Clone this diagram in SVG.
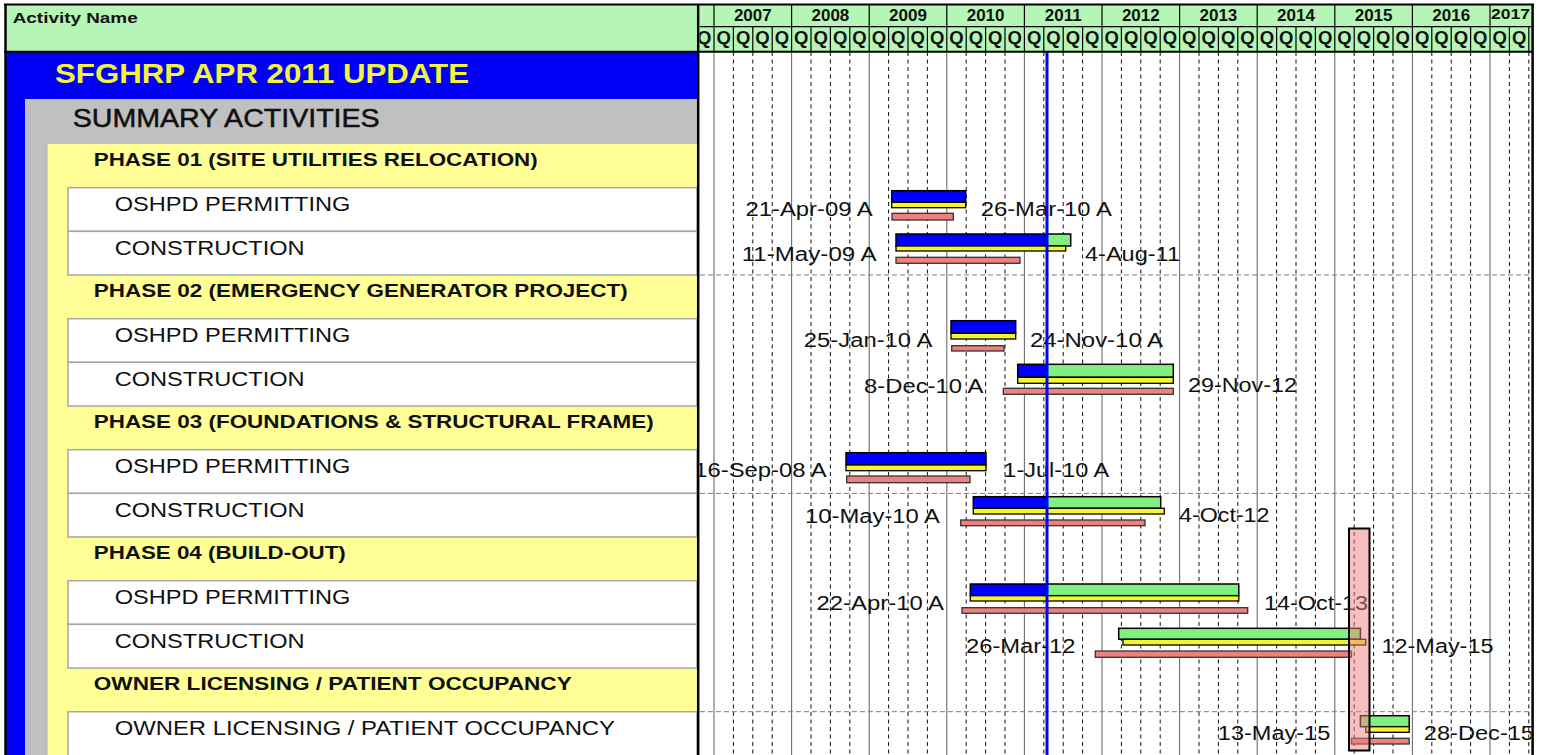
<svg xmlns="http://www.w3.org/2000/svg" width="1545" height="755" viewBox="0 0 1545 755">
<style>
text{font-family:"Liberation Sans",Arial,sans-serif;fill:#111}
.b{font-weight:bold}
.ph{font-size:18.5px;font-weight:bold}
.wt{font-size:19.5px}
.lbl{font-size:19.5px}
.yr{font-size:17px;font-weight:bold;text-anchor:middle}
.q{font-size:18.5px;font-weight:bold;text-anchor:middle}
.wrow{fill:#fff;stroke:#a6a6a6;stroke-width:1.5}
.act{fill:#0000ff;stroke:#000;stroke-width:1.5}
.rem{fill:#80f080;stroke:#000;stroke-width:1.5}
.bl1{fill:#f6f630;stroke:#000;stroke-width:1.3}
.bl2{fill:#f08080;stroke:#333;stroke-width:1.3}
.ygrid{fill:none;stroke:#6e6e6e;stroke-width:1.1}
.qgrid{fill:none;stroke:#111;stroke-width:1;stroke-dasharray:4 3.5}
.hgrid{fill:none;stroke:#7a7a7a;stroke-width:1;stroke-dasharray:5 3}
.bd{fill:none;stroke:#000}
</style>
<defs>
<clipPath id="chartClip"><rect x="699.5" y="52" width="832" height="703"/></clipPath>
<clipPath id="hdrClip"><rect x="699.5" y="4" width="832" height="48"/></clipPath>
</defs>
<rect x="0" y="0" width="1545" height="755" fill="#fff"/>

<!-- LEFT PANEL -->
<g id="left-panel">
<rect x="5" y="52" width="692" height="703" fill="#0000f8"/>
<rect x="25" y="99" width="672" height="656" fill="#c0c0c0"/>
<rect x="47.7" y="144" width="649.3" height="611" fill="#ffff96"/>
</g>
<g id="hdr-left">
<rect x="5" y="4.5" width="692" height="47" fill="#b5f5b5"/>
<text class="b" x="12.7" y="23.3" font-size="15" textLength="125" lengthAdjust="spacingAndGlyphs">Activity Name</text>
</g>
<g id="title">
<text class="b" x="55" y="83.3" font-size="28" style="fill:#f4f43c" textLength="414" lengthAdjust="spacingAndGlyphs">SFGHRP APR 2011 UPDATE</text>
</g>
<g id="summary">
<text x="72.7" y="126.7" font-size="25.5" stroke="#111" stroke-width="0.5" textLength="307" lengthAdjust="spacingAndGlyphs">SUMMARY ACTIVITIES</text>
</g>
<g id="phase01">
<text class="ph" x="93.75" y="165.5" textLength="444" lengthAdjust="spacingAndGlyphs">PHASE 01 (SITE UTILITIES RELOCATION)</text>
</g>
<g id="p01-oshpd">
<rect class="wrow" x="68" y="187.67" width="629" height="43.67"/>
<text class="wt" x="114.7" y="211.2" textLength="235.7" lengthAdjust="spacingAndGlyphs">OSHPD PERMITTING</text>
</g>
<g id="p01-cons">
<rect class="wrow" x="68" y="231.34" width="629" height="43.67"/>
<text class="wt" x="114.7" y="254.8" textLength="189.9" lengthAdjust="spacingAndGlyphs">CONSTRUCTION</text>
</g>
<g id="phase02">
<text class="ph" x="93.75" y="296.5" textLength="534" lengthAdjust="spacingAndGlyphs">PHASE 02 (EMERGENCY GENERATOR PROJECT)</text>
</g>
<g id="p02-oshpd">
<rect class="wrow" x="68" y="318.68" width="629" height="43.67"/>
<text class="wt" x="114.7" y="342.2" textLength="235.7" lengthAdjust="spacingAndGlyphs">OSHPD PERMITTING</text>
</g>
<g id="p02-cons">
<rect class="wrow" x="68" y="362.35" width="629" height="43.67"/>
<text class="wt" x="114.7" y="385.9" textLength="189.9" lengthAdjust="spacingAndGlyphs">CONSTRUCTION</text>
</g>
<g id="phase03">
<text class="ph" x="93.75" y="427.5" textLength="560" lengthAdjust="spacingAndGlyphs">PHASE 03 (FOUNDATIONS &amp; STRUCTURAL FRAME)</text>
</g>
<g id="p03-oshpd">
<rect class="wrow" x="68" y="449.69" width="629" height="43.67"/>
<text class="wt" x="114.7" y="473.2" textLength="235.7" lengthAdjust="spacingAndGlyphs">OSHPD PERMITTING</text>
</g>
<g id="p03-cons">
<rect class="wrow" x="68" y="493.36" width="629" height="43.67"/>
<text class="wt" x="114.7" y="516.9" textLength="189.9" lengthAdjust="spacingAndGlyphs">CONSTRUCTION</text>
</g>
<g id="phase04">
<text class="ph" x="93.75" y="558.5" textLength="252" lengthAdjust="spacingAndGlyphs">PHASE 04 (BUILD-OUT)</text>
</g>
<g id="p04-oshpd">
<rect class="wrow" x="68" y="580.7" width="629" height="43.67"/>
<text class="wt" x="114.7" y="604.2" textLength="235.7" lengthAdjust="spacingAndGlyphs">OSHPD PERMITTING</text>
</g>
<g id="p04-cons">
<rect class="wrow" x="68" y="624.37" width="629" height="43.67"/>
<text class="wt" x="114.7" y="647.9" textLength="189.9" lengthAdjust="spacingAndGlyphs">CONSTRUCTION</text>
</g>
<g id="owner-hdr">
<text class="ph" x="93.75" y="689.5" textLength="478" lengthAdjust="spacingAndGlyphs">OWNER LICENSING / PATIENT OCCUPANCY</text>
</g>
<g id="owner-act">
<rect class="wrow" x="68" y="711.71" width="629" height="50"/>
<text class="wt" x="114.7" y="735.2" textLength="500.3" lengthAdjust="spacingAndGlyphs">OWNER LICENSING / PATIENT OCCUPANCY</text>
</g>

<!-- TIMESCALE HEADER -->
<g id="timescale" clip-path="url(#hdrClip)">
<rect x="699.5" y="4.5" width="833" height="47" fill="#b5f5b5"/>
<path class="bd" stroke-width="1.2" d="M700 26.7H1532"/>
<path class="bd" stroke-width="1.2" d="M714 4.5V26.7M791.6 4.5V26.7M869.2 4.5V26.7M946.8 4.5V26.7M1024.4 4.5V26.7M1102 4.5V26.7M1179.6 4.5V26.7M1257.2 4.5V26.7M1334.8 4.5V26.7M1412.4 4.5V26.7M1490 4.5V26.7"/>
<path class="bd" stroke-width="1.2" d="M714 26.7V51M733.4 26.7V51M752.8 26.7V51M772.2 26.7V51M791.6 26.7V51M811 26.7V51M830.4 26.7V51M849.8 26.7V51M869.2 26.7V51M888.6 26.7V51M908 26.7V51M927.4 26.7V51M946.8 26.7V51M966.2 26.7V51M985.6 26.7V51M1005 26.7V51M1024.4 26.7V51M1043.8 26.7V51M1063.2 26.7V51M1082.6 26.7V51M1102 26.7V51M1121.4 26.7V51M1140.8 26.7V51M1160.2 26.7V51M1179.6 26.7V51M1199 26.7V51M1218.4 26.7V51M1237.8 26.7V51M1257.2 26.7V51M1276.6 26.7V51M1296 26.7V51M1315.4 26.7V51M1334.8 26.7V51M1354.2 26.7V51M1373.6 26.7V51M1393 26.7V51M1412.4 26.7V51M1431.8 26.7V51M1451.2 26.7V51M1470.6 26.7V51M1490 26.7V51M1509.4 26.7V51M1528.8 26.7V51"/>
<text class="yr" x="752.8" y="20.7">2007</text>
<text class="yr" x="830.4" y="20.7">2008</text>
<text class="yr" x="908" y="20.7">2009</text>
<text class="yr" x="985.6" y="20.7">2010</text>
<text class="yr" x="1063.2" y="20.7">2011</text>
<text class="yr" x="1140.8" y="20.7">2012</text>
<text class="yr" x="1218.4" y="20.7">2013</text>
<text class="yr" x="1296" y="20.7">2014</text>
<text class="yr" x="1373.6" y="20.7">2015</text>
<text class="yr" x="1451.2" y="20.7">2016</text>
<text class="b" x="1491" y="18.5" font-size="15" textLength="39" lengthAdjust="spacingAndGlyphs">2017</text>
<text class="q" x="704.3 723.7 743.1 762.5 781.9 801.3 820.7 840.1 859.5 878.9 898.3 917.7 937.1 956.5 975.9 995.3 1014.7 1034.1 1053.5 1072.9 1092.3 1111.7 1131.1 1150.5 1169.9 1189.3 1208.7 1228.1 1247.5 1266.9 1286.3 1305.7 1325.1 1344.5 1363.9 1383.3 1402.7 1422.1 1441.5 1460.9 1480.3 1499.7 1519.1" y="44">QQQQQQQQQQQQQQQQQQQQQQQQQQQQQQQQQQQQQQQQQQQ</text>
</g>

<!-- CHART BODY -->
<g id="chart" clip-path="url(#chartClip)">
<g id="grid">
<path class="ygrid" d="M714 52V755M791.6 52V755M869.2 52V755M946.8 52V755M1024.4 52V755M1102 52V755M1179.6 52V755M1257.2 52V755M1334.8 52V755M1412.4 52V755M1490 52V755"/>
<path class="qgrid" d="M733.4 52V755M752.8 52V755M772.2 52V755M811 52V755M830.4 52V755M849.8 52V755M888.6 52V755M908 52V755M927.4 52V755M966.2 52V755M985.6 52V755M1005 52V755M1043.8 52V755M1063.2 52V755M1082.6 52V755M1121.4 52V755M1140.8 52V755M1160.2 52V755M1199 52V755M1218.4 52V755M1237.8 52V755M1276.6 52V755M1296 52V755M1315.4 52V755M1354.2 52V755M1373.6 52V755M1393 52V755M1431.8 52V755M1451.2 52V755M1470.6 52V755M1509.4 52V755M1528.8 52V755"/>
<path class="hgrid" d="M700 275H1532M700 493.4H1532M700 711.7H1532"/>
</g>

<g id="bar-p01-oshpd">
<rect class="act" x="891.7" y="190.7" width="74" height="11.6"/>
<rect class="bl1" x="891.7" y="202.3" width="74" height="5.4"/>
<rect class="bl2" x="892" y="213.3" width="61.3" height="6.7"/>
<text class="lbl" x="745.5" y="215.7" textLength="127.2" lengthAdjust="spacingAndGlyphs">21-Apr-09 A</text>
<text class="lbl" x="980.7" y="215.7" textLength="131.1" lengthAdjust="spacingAndGlyphs">26-Mar-10 A</text>
</g>
<g id="bar-p01-cons">
<rect class="act" x="896" y="234" width="151.3" height="12"/>
<rect class="rem" x="1047.3" y="234" width="23.4" height="12"/>
<rect class="bl1" x="896" y="246" width="169.7" height="5"/>
<rect class="bl2" x="896" y="257.3" width="124" height="6"/>
<text class="lbl" x="741.7" y="260.7" textLength="135" lengthAdjust="spacingAndGlyphs">11-May-09 A</text>
<text class="lbl" x="1085" y="260.7" textLength="95" lengthAdjust="spacingAndGlyphs">4-Aug-11</text>
</g>
<g id="bar-p02-oshpd">
<rect class="act" x="951" y="320.7" width="64.7" height="12.6"/>
<rect class="bl1" x="951" y="333.3" width="64.7" height="5.7"/>
<rect class="bl2" x="951.7" y="345.7" width="52.3" height="5.3"/>
<text class="lbl" x="803.8" y="346.7" textLength="128.5" lengthAdjust="spacingAndGlyphs">25-Jan-10 A</text>
<text class="lbl" x="1030" y="346.7" textLength="133" lengthAdjust="spacingAndGlyphs">24-Nov-10 A</text>
</g>
<g id="bar-p02-cons">
<rect class="act" x="1017.7" y="364.3" width="29.6" height="13"/>
<rect class="rem" x="1047.3" y="364.3" width="126" height="13"/>
<rect class="bl1" x="1017.7" y="377.3" width="155.6" height="6"/>
<rect class="bl2" x="1003.3" y="388.3" width="170" height="6"/>
<text class="lbl" x="864" y="392.7" textLength="119.3" lengthAdjust="spacingAndGlyphs">8-Dec-10 A</text>
<text class="lbl" x="1188" y="391.5" textLength="109" lengthAdjust="spacingAndGlyphs">29-Nov-12</text>
</g>
<g id="bar-p03-oshpd">
<rect class="act" x="846" y="452.7" width="140" height="12.3"/>
<rect class="bl1" x="846" y="465" width="140" height="5.7"/>
<rect class="bl2" x="846.7" y="476" width="123.3" height="6.7"/>
<text class="lbl" x="694.2" y="476.7" textLength="132.5" lengthAdjust="spacingAndGlyphs">16-Sep-08 A</text>
<text class="lbl" x="1003.3" y="476.7" textLength="106" lengthAdjust="spacingAndGlyphs">1-Jul-10 A</text>
</g>
<g id="bar-p03-cons">
<rect class="act" x="973.3" y="496.7" width="74" height="11.6"/>
<rect class="rem" x="1047.3" y="496.7" width="113.4" height="11.6"/>
<rect class="bl1" x="973.3" y="508.3" width="191" height="5.7"/>
<rect class="bl2" x="960.7" y="520" width="184.3" height="5.7"/>
<text class="lbl" x="805" y="522.6" textLength="135" lengthAdjust="spacingAndGlyphs">10-May-10 A</text>
<text class="lbl" x="1179" y="522" textLength="90.5" lengthAdjust="spacingAndGlyphs">4-Oct-12</text>
</g>
<g id="bar-p04-oshpd">
<rect class="act" x="970.3" y="584" width="77" height="11.7"/>
<rect class="rem" x="1047.3" y="584" width="191.5" height="11.7"/>
<rect class="bl1" x="970.3" y="595.7" width="268.5" height="5.3"/>
<rect class="bl2" x="962" y="607.7" width="285.7" height="5.6"/>
<text class="lbl" x="816.5" y="610" textLength="127.5" lengthAdjust="spacingAndGlyphs">22-Apr-10 A</text>
<text class="lbl" x="1264" y="609.5" textLength="104" lengthAdjust="spacingAndGlyphs">14-Oct-13</text>
</g>
<g id="bar-p04-cons">
<rect class="rem" x="1118.7" y="628.3" width="241.7" height="11"/>
<rect class="bl1" x="1123" y="639.3" width="242.8" height="5.7"/>
<rect class="bl2" x="1095.3" y="651" width="256.2" height="6.3"/>
<text class="lbl" x="966" y="653.3" textLength="109.5" lengthAdjust="spacingAndGlyphs">26-Mar-12</text>
<text class="lbl" x="1381.5" y="652.8" textLength="112" lengthAdjust="spacingAndGlyphs">12-May-15</text>
</g>
<g id="bar-owner">
<rect class="rem" x="1360.4" y="715.7" width="48.8" height="11"/>
<rect class="bl1" x="1365.8" y="726.7" width="43.4" height="5.6"/>
<rect class="bl2" x="1351.5" y="738.3" width="57.7" height="5.7"/>
<text class="lbl" x="1217.8" y="740" textLength="112.5" lengthAdjust="spacingAndGlyphs">13-May-15</text>
<text class="lbl" x="1423.8" y="740" textLength="110.2" lengthAdjust="spacingAndGlyphs">28-Dec-15</text>
</g>
<g id="window-band">
<rect x="1349" y="528.5" width="20.5" height="222" fill="#f08080" fill-opacity="0.5" stroke="#000" stroke-width="2"/>
</g>
<g id="data-date">
<path d="M1047 52V755" stroke="#0000ff" stroke-width="3" fill="none"/>
</g>
</g>

<!-- BORDERS -->
<g id="borders">
<path class="bd" stroke-width="2" d="M4 4.5H1534"/>
<path class="bd" stroke-width="2" d="M4 51.7H1533"/>
<path class="bd" stroke-width="2.5" d="M5.5 4V755"/>
<path class="bd" stroke-width="2.5" d="M698.2 4V755"/>
<path class="bd" stroke-width="2.5" d="M1532.6 4V755"/>
</g>
</svg>
